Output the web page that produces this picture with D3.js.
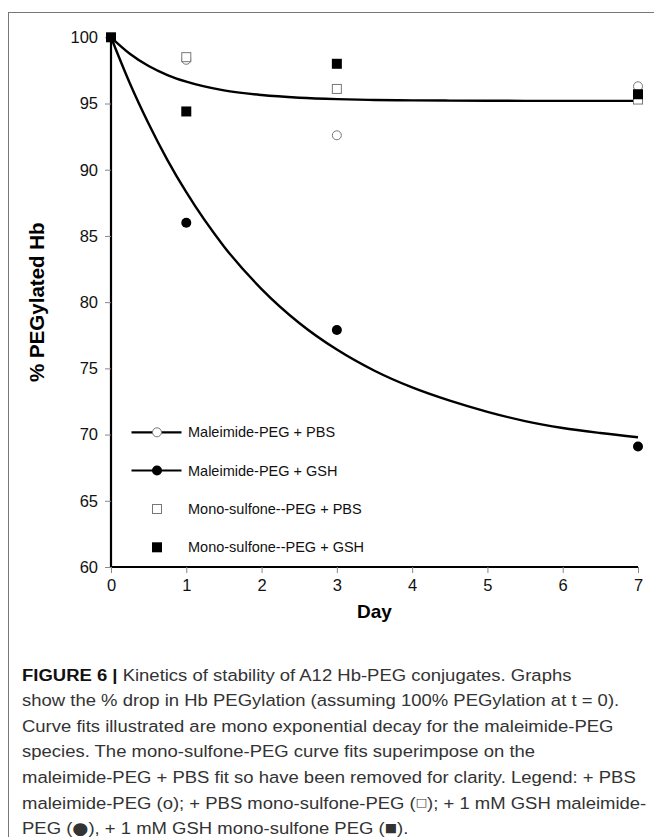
<!DOCTYPE html>
<html><head><meta charset="utf-8">
<script src="https://cdn.jsdelivr.net/npm/d3@7"></script>
<style>body{margin:0;background:#fff}svg{display:block}</style>
</head><body>
<svg id="c" width="654" height="837"></svg>
<script>
// ---- data ----
const days = [0, 1, 3, 7];
const malPBS = [100, 98.3, 92.6, 96.3];     // open circle
const malGSH = [100, 86.0, 77.9, 69.1];     // filled circle
const monoPBS = [100, 98.5, 96.1, 95.3];    // open square
const monoGSH = [100, 94.4, 98.0, 95.7];    // filled square
const fitDays = [0, 0.25, 0.5, 0.75, 1, 1.5, 2, 2.5, 3, 3.5, 4, 4.5, 5, 5.5, 6, 6.5, 7];
const fitPBS = [100, 98.76, 97.83, 97.15, 96.65, 95.99, 95.64, 95.44, 95.33, 95.27, 95.24, 95.22, 95.21, 95.2, 95.2, 95.2, 95.2];
const fitGSH = [100, 96.53, 93.47, 90.73, 88.30, 84.21, 80.99, 78.43, 76.42, 74.82, 73.56, 72.56, 71.72, 71.02, 70.5, 70.12, 69.8];
const xTicks = [0, 1, 2, 3, 4, 5, 6, 7];
const yTicks = [60, 65, 70, 75, 80, 85, 90, 95, 100];
const legendLabels = ["Maleimide-PEG + PBS", "Maleimide-PEG + GSH", "Mono-sulfone--PEG + PBS", "Mono-sulfone--PEG + GSH"];
const captionLines = [
  "Kinetics of stability of A12 Hb-PEG conjugates. Graphs",
  "show the % drop in Hb PEGylation (assuming 100% PEGylation at t = 0).",
  "Curve fits illustrated are mono exponential decay for the maleimide-PEG",
  "species. The mono-sulfone-PEG curve fits superimpose on the",
  "maleimide-PEG + PBS fit so have been removed for clarity. Legend: + PBS",
  "maleimide-PEG (o); + PBS mono-sulfone-PEG (\u25A1); + 1 mM GSH maleimide-",
  "PEG (\u25CF), + 1 mM GSH mono-sulfone PEG (\u25A0)."
];

const svg = d3.select("#c");
const font = "'Liberation Sans', Arial, sans-serif";

// frame
svg.append("rect").attr("x", 8.5).attr("y", 12.5).attr("width", 700).attr("height", 900)
  .attr("fill", "none").attr("stroke", "#777").attr("stroke-width", 1);

const x = d3.scaleLinear().domain([0, 7]).range([111, 638]);
const y = d3.scaleLinear().domain([60, 100]).range([567, 37.3]);

// axes
const gx = svg.append("g").attr("transform", `translate(0,${y(60)})`)
  .call(d3.axisBottom(x).tickValues(xTicks).tickSize(6).tickPadding(6).tickFormat(d3.format("d")));
const gy = svg.append("g").attr("transform", `translate(${x(0)},0)`)
  .call(d3.axisLeft(y).tickValues(yTicks).tickSize(6).tickPadding(7).tickFormat(d3.format("d")));
[gx, gy].forEach(g => {
  g.select(".domain").attr("stroke", "#000").attr("stroke-width", 2.2);
  g.selectAll(".tick line").attr("stroke", "#888").attr("stroke-width", 1);
  g.selectAll(".tick text").attr("font-family", font).attr("font-size", 16.5).attr("fill", "#111");
});
gx.select(".domain").attr("d", `M${x(0)},0H${x(7)}`);
gy.select(".domain").attr("d", `M0,${y(60)}V${y(100)}`);

// axis titles
svg.append("text").attr("x", (x(0) + x(7)) / 2).attr("y", 618).attr("text-anchor", "middle")
  .attr("font-family", font).attr("font-weight", "bold").attr("font-size", 19).text("Day");
svg.append("text").attr("transform", `translate(44,${(y(60) + y(100)) / 2}) rotate(-90)`)
  .attr("text-anchor", "middle").attr("font-family", font).attr("font-weight", "bold")
  .attr("font-size", 20.5).text("% PEGylated Hb");

// fit curves
const line = d3.line().x(d => x(d[0])).y(d => y(d[1])).curve(d3.curveMonotoneX);
[fitPBS, fitGSH].forEach(f => {
  svg.append("path").attr("d", line(fitDays.map((d, i) => [d, f[i]])))
    .attr("fill", "none").attr("stroke", "#000").attr("stroke-width", 2.4);
});

// markers
function openCircle(g, cx, cy) {
  g.append("circle").attr("cx", cx).attr("cy", cy).attr("r", 4.5).attr("fill", "#fff")
    .attr("stroke", "#777").attr("stroke-width", 1);
}
function fillCircle(g, cx, cy) {
  g.append("circle").attr("cx", cx).attr("cy", cy).attr("r", 5).attr("fill", "#000");
}
function openSquare(g, cx, cy) {
  g.append("rect").attr("x", cx - 4.5).attr("y", cy - 4.5).attr("width", 9).attr("height", 9)
    .attr("fill", "#fff").attr("stroke", "#777").attr("stroke-width", 1);
}
function fillSquare(g, cx, cy) {
  g.append("rect").attr("x", cx - 5).attr("y", cy - 5).attr("width", 10).attr("height", 10).attr("fill", "#000");
}
const mk = svg.append("g");
days.forEach((d, i) => { if (i > 0) openCircle(mk, x(d), y(malPBS[i])); });
days.forEach((d, i) => { if (i > 0) openSquare(mk, x(d), y(monoPBS[i])); });
days.forEach((d, i) => { if (i > 0) fillCircle(mk, x(d), y(malGSH[i])); });
days.forEach((d, i) => fillSquare(mk, x(d), y(monoGSH[i])));

// legend
const lg = svg.append("g");
const ly = [432.3, 470.5, 509, 547.3];
const lx0 = 131.5, lx1 = 181.5, lmid = 157, ltx = 188;
legendLabels.forEach((t, i) => {
  if (i < 2) lg.append("line").attr("x1", lx0).attr("x2", lx1).attr("y1", ly[i]).attr("y2", ly[i])
    .attr("stroke", "#000").attr("stroke-width", 2.2);
  if (i === 0) openCircle(lg, lmid, ly[i]);
  if (i === 1) fillCircle(lg, lmid, ly[i]);
  if (i === 2) openSquare(lg, lmid, ly[i]);
  if (i === 3) fillSquare(lg, lmid, ly[i]);
  lg.append("text").attr("x", ltx).attr("y", ly[i]).attr("dy", "0.35em")
    .attr("font-family", font).attr("font-size", 14.5).attr("fill", "#111").text(t);
});

// caption
const cap = svg.append("g").attr("font-family", font).attr("font-size", 17).attr("fill", "#333");
const lineH = 25.6, cy0 = 680.5;
const t5 = cap.append("text").attr("x", 0).attr("y", -100).text(captionLines[4]);
const sx = 614 / t5.node().getComputedTextLength();
t5.remove();
const symStyle = {"\u25CF": {f: "'DejaVu Sans'", s: 17, dy: 0}, "\u25A0": {f: "'DejaVu Sans'", s: 12, dy: -2.5}, "\u25A1": {f: "'DejaVu Sans'", s: 11, dy: -2.5}};
captionLines.forEach((l, i) => {
  const t = cap.append("text").attr("transform", `translate(22,${cy0 + i * lineH}) scale(${sx},1)`);
  if (i === 0) {
    t.append("tspan").attr("font-weight", "bold").attr("fill", "#111").text("FIGURE 6 | ");
  }
  let pending = 0;
  l.split(/([\u25CF\u25A0\u25A1])/).forEach(part => {
    if (!part) return;
    const sp = t.append("tspan").text(part);
    const st = symStyle[part];
    if (st) {
      sp.attr("font-family", st.f).attr("font-size", st.s).attr("dy", st.dy);
      pending = -st.dy;
    } else if (pending) {
      sp.attr("dy", pending);
      pending = 0;
    }
  });
});
</script>
</body></html>
